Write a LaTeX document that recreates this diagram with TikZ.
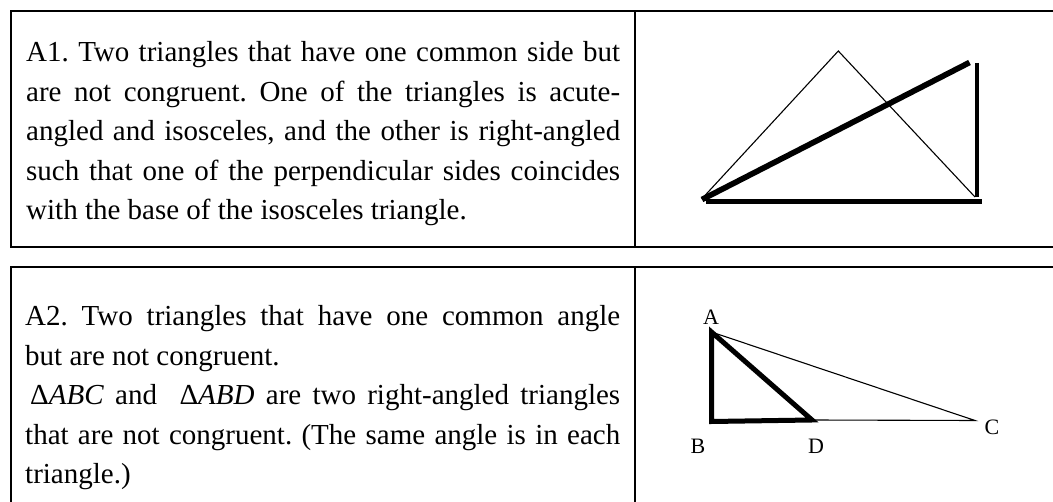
\documentclass[tikz,border=0pt]{standalone}
\usepackage{fontspec}
\setmainfont{Liberation Serif}
\frenchspacing
\begin{document}
\begin{tikzpicture}[x=1pt,y=-1pt,
  frame/.style={line width=2pt},
  thinedge/.style={line width=1.1pt},
  boldedge/.style={line width=5pt},
  body/.style={anchor=base west, inner sep=0pt, font=\fontsize{29}{35}\selectfont},
  lbl/.style={inner sep=0pt, font=\fontsize{22}{26}\selectfont}]
\useasboundingbox (0,0) rectangle (1053,502);
% table frames
\draw[frame] (1053,11) -- (11,11) -- (11,247.5) -- (1053,247.5);
\draw[frame] (634.5,11) -- (634.5,247.5);
\draw[frame] (1053,267.5) -- (11,267.5) -- (11,502);
\draw[frame] (634.5,267.5) -- (634.5,502);
% row 1 text
\node[body] (r1a) at (26,62) {\makebox[594pt][s]{A1. Two triangles that have one common side but}};
\node[body] (r1b) at (26,101.5) {\makebox[594pt][s]{are not congruent. One of the triangles is acute-}};
\node[body] (r1c) at (26,141) {\makebox[594pt][s]{angled and isosceles, and the other is right-angled}};
\node[body] (r1d) at (26,180.5) {\makebox[594pt][s]{such that one of the perpendicular sides coincides}};
\node[body] (r1e) at (26,220) {with the base of the isosceles triangle.};
% row 2 text
\node[body] (r2a) at (25,326) {\makebox[595pt][s]{A2. Two triangles that have one common angle}};
\node[body] (r2b) at (25,365.5) {but are not congruent.};
\node[body] (r2c) at (30,405) {\makebox[590pt][s]{Δ\textit{ABC} and \ Δ\textit{ABD} are two right-angled triangles}};
\node[body] (r2d) at (25,444.5) {\makebox[595pt][s]{that are not congruent. (The same angle is in each}};
\node[body] (r2e) at (25,484) {triangle.)};
% figure 1
\coordinate (P) at (838.3,51);
\coordinate (L) at (701.7,199);
\coordinate (R) at (975,197);
\draw[thinedge] (L) -- (P) -- (R);
\coordinate (Hs) at (702,199.5);
\coordinate (He) at (969.5,62.5);
\draw[line width=5.7pt] (Hs) -- (He);
\coordinate (Vt) at (976.5,63);
\coordinate (Vb) at (976.5,197.5);
\draw[line width=4pt] (Vt) -- (Vb);
\coordinate (Bl) at (706,201.7);
\coordinate (Br) at (982,201.7);
\draw[line width=5pt] (Bl) -- (Br);
% figure 2
\coordinate (A) at (711.5,332);
\coordinate (B) at (711.5,421.5);
\coordinate (D) at (812,420);
\coordinate (C) at (975,420.5);
\draw[thinedge] (A) -- (C) -- (D);
\draw[boldedge, line join=miter] (A) -- (B) -- (D) -- cycle;
\node[lbl] (lA) at (711,317) {A};
\node[lbl] (lB) at (698,446) {B};
\node[lbl] (lD) at (816,446) {D};
\node[lbl] (lC) at (992,427) {C};
\end{tikzpicture}
\end{document}
